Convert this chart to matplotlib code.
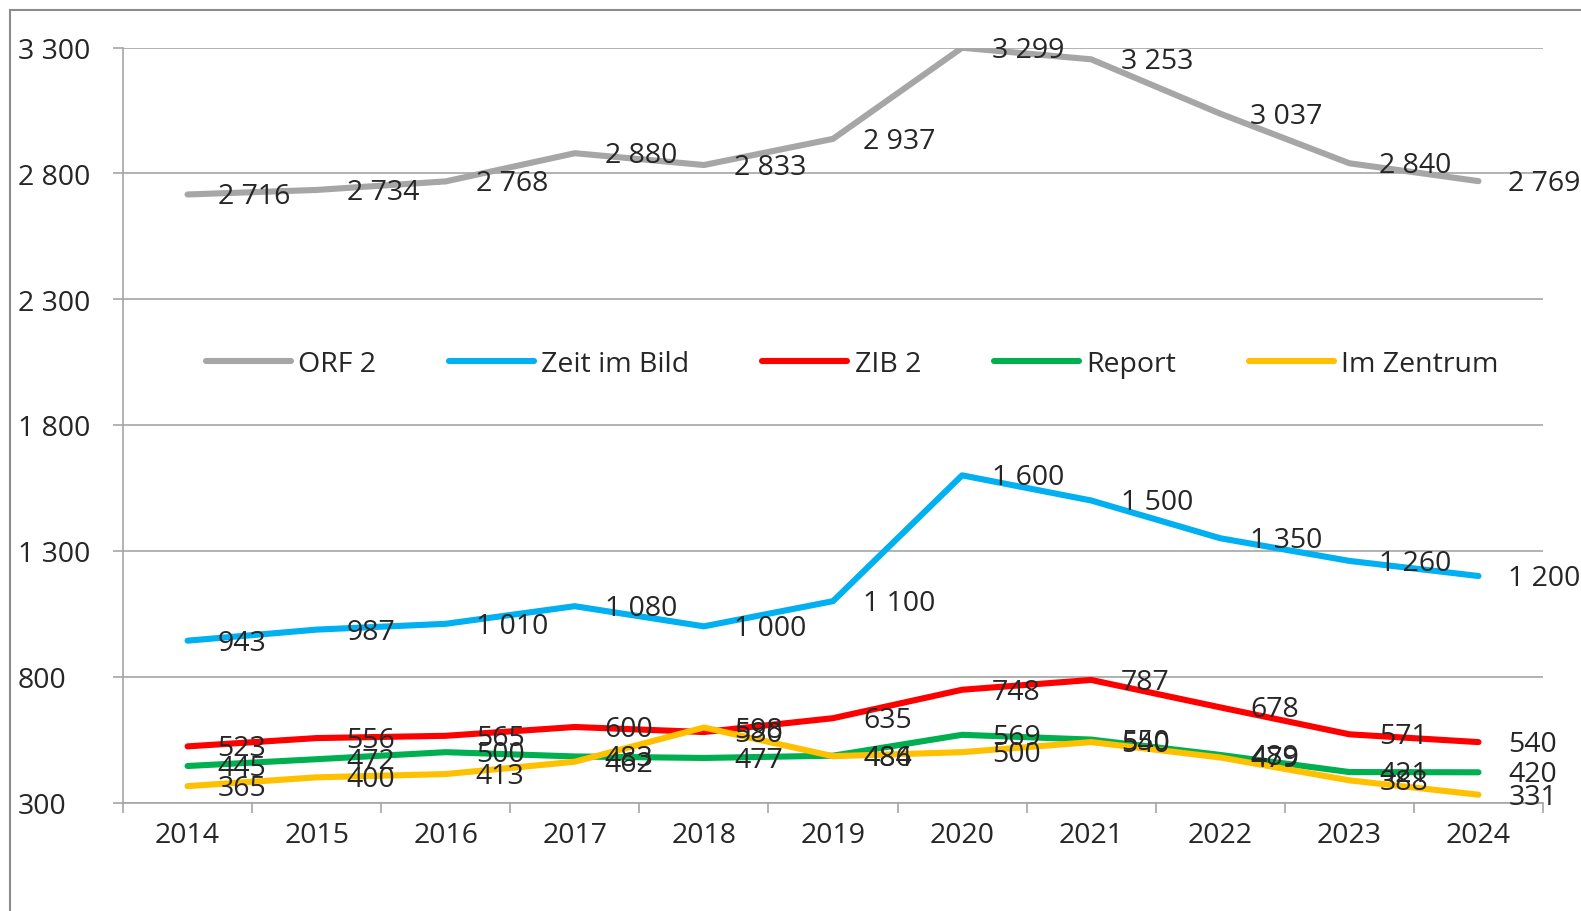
import matplotlib
matplotlib.use("Agg")
import matplotlib.pyplot as plt
from matplotlib.patches import Rectangle
from matplotlib.ticker import FixedLocator, FuncFormatter

years = ["2014", "2015", "2016", "2017", "2018", "2019", "2020", "2021", "2022", "2023", "2024"]
orf2 = [2716, 2734, 2768, 2880, 2833, 2937, 3299, 3253, 3037, 2840, 2769]
zib = [943, 987, 1010, 1080, 1000, 1100, 1600, 1500, 1350, 1260, 1200]
zib2 = [523, 556, 565, 600, 580, 635, 748, 787, 678, 571, 540]
report = [445, 472, 500, 483, 477, 486, 569, 550, 489, 421, 420]
im_zentrum = [365, 400, 413, 462, 598, 484, 500, 540, 479, 388, 331]

series_names = ["ORF 2", "Zeit im Bild", "ZIB 2", "Report", "Im Zentrum"]
series_values = [orf2, zib, zib2, report, im_zentrum]
colors = ["#A6A6A6", "#00B0F0", "#FF0000", "#00B050", "#FFC000"]
yticks = [300, 800, 1300, 1800, 2300, 2800, 3300]

plt.rcParams['font.family'] = ['Open Sans', 'DejaVu Sans']
TXT = "#262626"
FS = 20.5

W, H = 1581, 912
fig = plt.figure(figsize=(W / 100, H / 100), dpi=100)

# outer chart border
fig.patches.append(Rectangle((10 / W, -0.1), 2.0, 1.1 - 11 / H, transform=fig.transFigure,
                             fill=False, edgecolor="#8C8C8C", linewidth=1.5))

left, right, top, bottom = 123, 1543, 48.5, 803.5
ax = fig.add_axes([left / W, 1 - bottom / H, (right - left) / W, (bottom - top) / H])

x = list(range(len(years)))
for name, vals, c in zip(series_names, series_values, colors):
    ax.plot(x, vals, color=c, linewidth=4.4, label=name, solid_capstyle='round', zorder=3)
    for xi, v in zip(x, vals):
        s = f"{v:,}".replace(",", " ")
        ax.annotate(s, (xi, v), xytext=(30, -2), textcoords="offset pixels",
                    ha="left", va="center", fontsize=FS, color=TXT, zorder=4)

ax.set_xlim(-0.5, len(years) - 0.5)
ax.set_ylim(300, 3300)
ax.set_yticks(yticks)
ax.yaxis.set_major_formatter(FuncFormatter(lambda v, p: f"{int(v):,}".replace(",", " ")))
ax.grid(axis="y", color="#A6A6A6", linewidth=1.2, zorder=0)
tick_len_pt = 7.2
ax.tick_params(axis="y", length=tick_len_pt, width=1.2, color="#A6A6A6", labelsize=FS,
               labelcolor=TXT, pad=(123 - 18) * 0.72 - tick_len_pt)
for lab in ax.get_yticklabels():
    lab.set_horizontalalignment("left")

ax.set_xticks(x)
ax.set_xticklabels(years)
ax.tick_params(axis="x", which="major", length=0, labelsize=FS, labelcolor=TXT, pad=13)
ax.xaxis.set_minor_locator(FixedLocator([i - 0.5 for i in range(len(years) + 1)]))
ax.tick_params(axis="x", which="minor", length=tick_len_pt, width=1.2, color="#A6A6A6")

for sp in ["top", "right"]:
    ax.spines[sp].set_visible(False)
for sp in ["left", "bottom"]:
    ax.spines[sp].set_color("#A6A6A6")
    ax.spines[sp].set_linewidth(1.2)

fig.legend(loc="center", bbox_to_anchor=(852 / W, 1 - 365 / H), ncol=5, frameon=False,
           fontsize=FS, handlelength=3.0, handletextpad=0.25, columnspacing=2.55,
           labelcolor=TXT)

fig.savefig("out.png", dpi=100)
